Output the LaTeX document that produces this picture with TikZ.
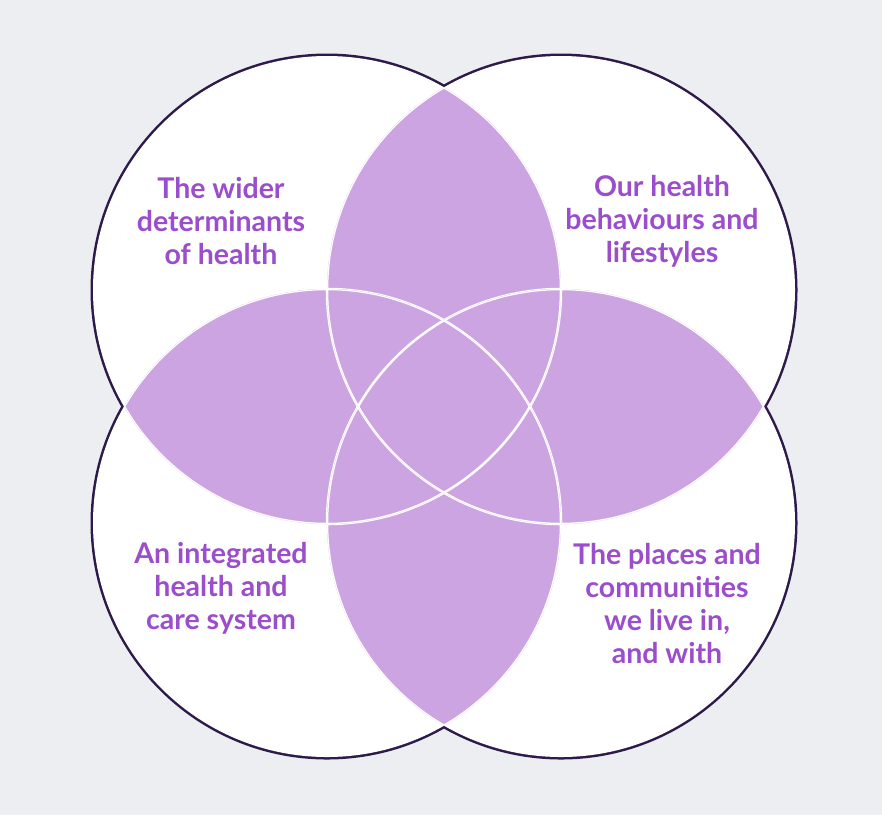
\documentclass[tikz,border=0pt]{standalone}
\usepackage{fontspec}
\setmainfont{Lato}
\usepackage{xcolor}

\definecolor{pagegrey}{HTML}{ECEEF1}
\definecolor{ringline}{HTML}{2E1A4A}
\definecolor{lensfill}{HTML}{CDA4E2}
\definecolor{labeltext}{HTML}{9B4DCB}

\tikzset{
  label text/.style={text=labeltext, align=center,
    font=\fontsize{28.5}{33}\selectfont\bfseries}
}

\begin{document}
\begin{tikzpicture}[x=1pt,y=-1pt]
\fill[pagegrey] (0,0) rectangle (882,815);
\useasboundingbox (0,0) rectangle (882,815);
% outer rings
\foreach \cx/\cy in {327/290,561/290,327/523,561/523}
  \draw[ringline, line width=5pt] (\cx,\cy) circle (234);
\foreach \cx/\cy in {327/290,561/290,327/523,561/523}
  \fill[white] (\cx,\cy) circle (234);
% overlaps, with the rings drawn white inside them
\foreach \ax/\ay/\bx/\by in {327/290/561/290, 327/290/327/523, 561/290/561/523,
    327/523/561/523, 327/290/561/523, 561/290/327/523} {
  \begin{scope}
    \clip (\ax,\ay) circle (234);
    \clip (\bx,\by) circle (234);
    \fill[lensfill] (0,0) rectangle (882,815);
    \foreach \cx/\cy in {327/290,561/290,327/523,561/523}
      \draw[white, line width=2.5pt] (\cx,\cy) circle (234);
  \end{scope}
}
\node[label text] (wider) at (221,221) {The wider\\determinants\\of health};
\node[label text] (lifestyle) at (662,221) {Our health\\behaviours and\\lifestyles};
\node[label text] (care) at (221,588) {An integrated\\health and\\care system};
\node[label text] (places) at (667,604) {The places and\\communities\\we live in,\\and with};
\end{tikzpicture}
\end{document}
